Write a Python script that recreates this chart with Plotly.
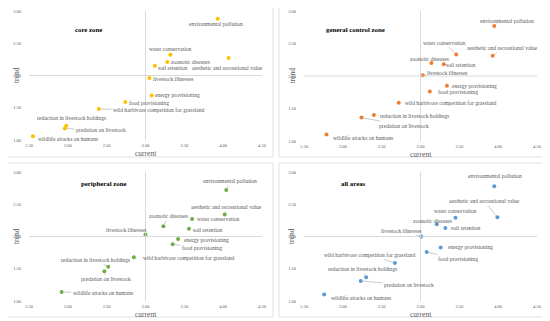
import plotly.graph_objects as go

categories = [
    "environmental pollution",
    "aesthetic and recreational value",
    "water conservation",
    "zoonotic diseases",
    "soil retention",
    "livestock illnesses",
    "energy provisioning",
    "food provisioning",
    "wild harbivore competition for grassland",
    "reduction in livestock holdings",
    "predation on livestock",
    "wildlife attacks on humans",
]

zones = ["core zone", "general control zone", "peripheral zone", "all areas"]

current_core = [3.93, 4.07, 3.32, 3.28, 3.12, 3.05, 3.08, 2.74, 2.40, 1.98, 1.96, 1.55]
trend_core = [2.88, 2.27, 2.32, 2.21, 2.15, 1.96, 1.69, 1.59, 1.48, 1.22, 1.18, 1.06]

current_general = [3.95, 3.93, 3.46, 3.14, 3.30, 3.03, 3.34, 3.12, 2.72, 2.40, 2.24, 1.79]
trend_general = [2.77, 2.31, 2.33, 2.20, 2.18, 2.01, 1.85, 1.76, 1.59, 1.40, 1.36, 1.10]

current_peripheral = [4.04, 4.02, 3.60, 3.23, 3.56, 3.00, 3.42, 3.35, 2.85, 2.52, 2.47, 1.92]
trend_peripheral = [2.72, 2.34, 2.27, 2.16, 2.12, 2.03, 1.96, 1.88, 1.68, 1.53, 1.46, 1.14]

current_all = [3.95, 3.99, 3.45, 3.21, 3.32, 3.01, 3.26, 3.08, 2.67, 2.30, 2.23, 1.76]
trend_all = [2.78, 2.30, 2.29, 2.19, 2.13, 2.00, 1.83, 1.76, 1.59, 1.37, 1.31, 1.10]

x_ticks = [1.5, 2.0, 2.5, 3.0, 3.5, 4.0, 4.5]
y_ticks = [1.0, 1.5, 2.0, 2.5, 3.0]
x_cross = 3.0
y_cross = 2.0

series_current = [current_core, current_general, current_peripheral, current_all]
series_trend = [trend_core, trend_general, trend_peripheral, trend_all]

# ---- styling / layout (positions in screenshot pixels) ----
PAGE_MARGIN = 8  # default body margin of the html page
W, H = 550 - PAGE_MARGIN, 321 - PAGE_MARGIN
colors = ["#FFC000", "#ED7D31", "#70AD47", "#5B9BD5"]
FONT = "Liberation Serif, Times New Roman, serif"
TXT = "#595959"


def px_x(p):
    return (p - PAGE_MARGIN) / W


def px_y(p):
    return 1 - (p - PAGE_MARGIN) / H


# plot areas (pixels): (left, right, top, bottom)
plot_px = [(29, 262, 11, 140), (304, 537, 11, 141), (29, 262, 172, 301), (304, 537, 172, 301)]
box_px = [(3, 273, 4, 157), (279, 548, 4, 157), (3, 273, 163, 317), (279, 548, 163, 317)]
title_px = [(73, 24), (355, 24), (79, 183), (353, 183)]

# label offsets: index -> (dx, dy, leader) in pixels (screen, y down)
label_offsets = [
    {0: (-2, 5, 0), 1: (-1, 10, 0), 2: (0, -6, 0), 3: (23, 0, 0), 4: (18, 2, 0), 5: (24, 1, 0),
     6: (26, 0, 0), 7: (24, 1, 0), 8: (60, 1, 1), 9: (5, -8, 0), 10: (36, 2, 1), 11: (35, 3, 0)},
    {0: (13, -5, 0), 1: (10, -8, 1), 2: (-12, -12, 1), 3: (-2, -4, 0), 4: (17, 1, 0), 5: (25, -2, 1),
     6: (28, 0, 0), 7: (28, 0, 0), 8: (52, 0, 0), 9: (41, 1, 0), 10: (43, 8, 1), 11: (36, 3, 0)},
    {0: (4, -9, 1), 1: (2, -8, 1), 2: (26, 0, 0), 3: (5, -10, 1), 4: (19, 1, 0), 5: (-19, -5, 0),
     6: (28, 1, 0), 7: (29, 4, 1), 8: (55, 1, 0), 9: (-13, -7, 1), 10: (2, 8, 1), 11: (41, 1, 1)},
    {0: (1, -10, 0), 1: (-13, -16, 1), 2: (0, -7, 0), 3: (-4, -3, 0), 4: (21, 0, 0), 5: (-20, -6, 1),
     6: (30, 0, 0), 7: (31, 7, 1), 8: (-25, -8, 1), 9: (-4, -8, 1), 10: (48, 4, 1), 11: (37, 3, 0)},
]

fig = go.Figure()
shapes = []
annotations = []
layout_axes = {}

for k in range(4):
    sfx = "" if k == 0 else str(k + 1)
    xa, ya = "x" + sfx, "y" + sfx
    l, r, t, b = plot_px[k]
    layout_axes["xaxis" + sfx] = dict(
        domain=[px_x(l), px_x(r)], range=[1.5, 4.5], anchor=ya, automargin=False,
        tickvals=x_ticks, ticktext=[f"{v:.2f}" for v in x_ticks],
        showgrid=False, zeroline=False, showline=False,
        ticks="outside", ticklen=1, tickcolor="rgba(0,0,0,0)",
        tickfont=dict(family=FONT, size=4.5, color=TXT), fixedrange=True,
    )
    layout_axes["yaxis" + sfx] = dict(
        domain=[px_y(b), px_y(t)], range=[1.0, 3.0], anchor=xa, automargin=False,
        tickvals=y_ticks, ticktext=[f"{v:.2f}" for v in y_ticks],
        showgrid=False, zeroline=False, showline=False,
        ticks="outside", ticklen=6, tickcolor="rgba(0,0,0,0)",
        tickfont=dict(family=FONT, size=4.5, color=TXT), fixedrange=True,
    )
    # crossing axes lines
    shapes.append(dict(type="line", xref=xa, yref=ya + " domain", x0=x_cross, x1=x_cross,
                       y0=0, y1=1, line=dict(color="#D0D0D0", width=0.8)))
    shapes.append(dict(type="line", xref=xa + " domain", yref=ya, x0=0, x1=1,
                       y0=y_cross, y1=y_cross, line=dict(color="#D0D0D0", width=0.8)))
    # panel border
    bl, br, bt, bb = box_px[k]
    shapes.append(dict(type="rect", xref="paper", yref="paper", x0=px_x(bl), x1=px_x(br),
                       y0=px_y(bb), y1=px_y(bt), line=dict(color="#D9D9D9", width=0.8)))

    fig.add_trace(go.Scatter(
        x=series_current[k], y=series_trend[k], mode="markers", xaxis=xa, yaxis=ya,
        marker=dict(color=colors[k], size=4), text=categories, showlegend=False,
        hovertemplate="%{text}<br>current %{x:.2f}<br>trend %{y:.2f}<extra></extra>",
    ))

    for i, name in enumerate(categories):
        dx, dy, leader = label_offsets[k][i]
        annotations.append(dict(
            x=series_current[k][i], y=series_trend[k][i], xref=xa, yref=ya,
            text=name, showarrow=True, ax=dx * 1.0, ay=dy * 1.0,
            arrowhead=0, arrowwidth=0.6, standoff=2,
            arrowcolor="#A6A6A6" if leader else "rgba(0,0,0,0)",
            font=dict(family=FONT, size=5.6, color=TXT),
        ))

    tx, ty = title_px[k]
    annotations.append(dict(x=px_x(tx), y=px_y(ty), xref="paper", yref="paper",
                            text="<b>" + zones[k] + "</b>", showarrow=False,
                            font=dict(family=FONT, size=6.8, color="#000000")))
    annotations.append(dict(x=0.5, y=0, xref=xa + " domain", yref=ya + " domain",
                            yanchor="top", yshift=-8, borderpad=0,
                            text="current", showarrow=False,
                            font=dict(family=FONT, size=7.5, color=TXT)))
    annotations.append(dict(x=0, y=0.5, xref=xa + " domain", yref=ya + " domain",
                            xshift=-19, text="trend", textangle=-90, showarrow=False,
                            font=dict(family=FONT, size=7.5, color=TXT)))

fig.update_layout(
    width=W, height=H, margin=dict(l=0, r=0, t=0, b=0),
    paper_bgcolor="white", plot_bgcolor="white",
    shapes=shapes, annotations=annotations, **layout_axes,
)

fig.write_html("out.html")
